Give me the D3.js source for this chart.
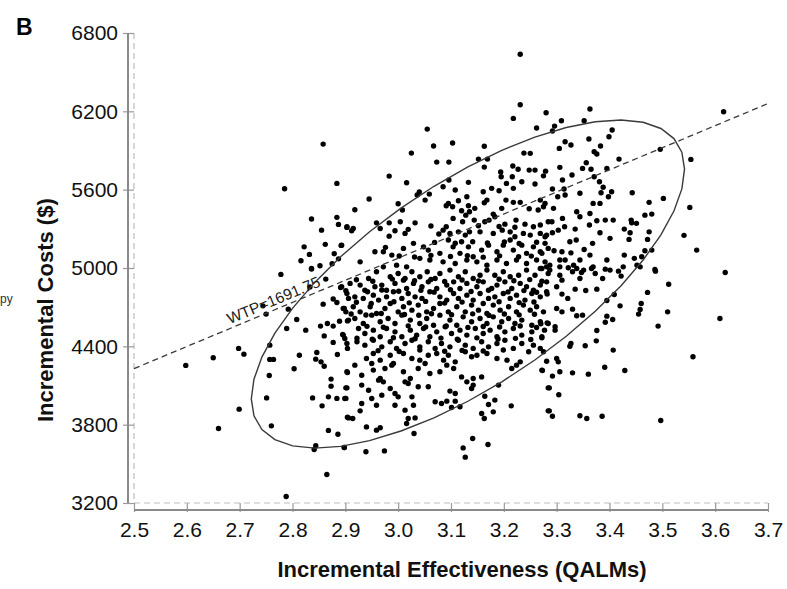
<!DOCTYPE html>
<html>
<head>
<meta charset="utf-8">
<script src="https://cdn.jsdelivr.net/npm/d3@7"></script>
<style>
  body { margin: 0; background: #fff; }
  svg { display: block; font-family: "Liberation Sans", Arial, sans-serif; }
</style>
</head>
<body>
<div id="chart"></div>
<script>
// axis ticks
const xTicks = [2.5, 2.6, 2.7, 2.8, 2.9, 3.0, 3.1, 3.2, 3.3, 3.4, 3.5, 3.6, 3.7];
const yTicks = [3200, 3800, 4400, 5000, 5600, 6200, 6800];

// willingness to pay threshold
const wtp = 1691.75;
const wtpLabelAt = 2.684;

// confidence ellipse: centre, half extents, correlation
const ellipseCenter = [3.132, 4877];
const ellipseHalf = [0.410, 1257];
const ellipseRho = 0.70;

// bootstrap replicates [effectiveness, cost]
const points = [
[2.858,5949],[2.884,5648],[2.785,5607],[2.836,5375],[2.884,5388],[2.887,5334],[2.903,5311],[2.855,5290],[2.822,5162],[2.862,5181],[2.892,5173],[2.832,5104],[2.879,5109],[2.887,5070],[2.816,5055],[2.875,5032],[2.836,4997],[2.852,5017],
[3.231,6637],[3.231,6251],[3.218,6146],[3.280,6189],[3.262,6072],[3.055,6064],[3.103,5957],[3.067,5934],[3.163,5932],[3.025,5880],[3.238,5880],[3.250,5878],[3.073,5811],[3.096,5811],[3.152,5834],[3.169,5834],[3.163,5773],[2.983,5704],[3.016,5653],[3.096,5674],[3.133,5656],[3.085,5622],[3.194,5735],[3.217,5781],[3.227,5756],[3.248,5750],[3.259,5750],[3.279,5742],[3.275,5706],[3.195,5699],[3.216,5699],[3.234,5661],[3.205,5648],[3.218,5610],[3.259,5643],[3.040,5582],[3.036,5559],[3.059,5566],[3.051,5520],[3.108,5597],[3.161,5584],[3.177,5610],[3.191,5592],[3.130,5546],[3.168,5520],[3.163,5500],[3.204,5520],[3.218,5503],[3.231,5503],[3.269,5520],[2.945,5528],[3.000,5492],[3.008,5444],[3.095,5495],[3.114,5515],[3.091,5477],[3.103,5469],[3.133,5477],[3.145,5457],[3.120,5438],[3.128,5405],[3.135,5431],[3.180,5413],[3.196,5457],[3.248,5454],[3.265,5444],[3.275,5469],[2.918,5446],[2.983,5346],[2.959,5346],[3.004,5354],[3.032,5346],[3.104,5380],[3.122,5354],[3.144,5367],[3.164,5354],[3.172,5367],[3.183,5392],[3.202,5336],[3.223,5367],[3.240,5336],[3.256,5316],[3.269,5329],[3.284,5354],[2.903,5316],[2.915,5303],[2.912,5285],[2.966,5303],[2.994,5285],[3.019,5296],[2.983,5244],[3.013,5265],[3.085,5290],[3.077,5260],[3.098,5265],[3.114,5277],[3.127,5252],[3.135,5277],[3.155,5277],[3.180,5265],[3.197,5290],[3.212,5277],[3.221,5239],[3.237,5265],[3.250,5252],[3.269,5265],[3.278,5239],[3.029,5189],[3.048,5162],[3.057,5137],[3.010,5150],[2.976,5158],[2.956,5124],[2.972,5124],[2.988,5099],[2.893,5175],[2.928,5047],[3.079,5112],[3.095,5214],[3.104,5162],[3.120,5201],[3.133,5162],[3.117,5112],[3.142,5086],[3.158,5137],[3.171,5175],[3.187,5124],[3.199,5175],[3.212,5214],[3.218,5137],[3.234,5175],[3.243,5112],[3.256,5162],[3.269,5124],[3.284,5150],[3.041,5074],[3.060,5061],[3.085,5047],[3.108,5035],[3.130,5061],[3.149,5047],[3.168,5022],[3.187,5061],[3.205,5035],[3.224,5061],[3.243,5035],[3.262,5061],[3.278,5047],[2.997,5022],[3.016,5009],[2.972,5009],
[3.363,6218],[3.616,6197],[3.296,6087],[3.309,6128],[3.292,6049],[3.352,6128],[3.405,6057],[3.399,6005],[3.361,5988],[3.316,5967],[3.327,5942],[3.305,5916],[3.371,5890],[3.383,5934],[3.376,5873],[3.496,5909],[3.418,5834],[3.554,5832],[3.356,5806],[3.349,5763],[3.365,5756],[3.395,5763],[3.306,5771],[3.329,5712],[3.371,5699],[3.311,5674],[3.381,5661],[3.388,5618],[3.292,5605],[3.314,5605],[3.384,5576],[3.404,5584],[3.344,5572],[3.443,5576],[3.302,5546],[3.316,5559],[3.398,5546],[3.502,5533],[3.475,5503],[3.369,5495],[3.382,5495],[3.278,5495],[3.294,5457],[3.552,5464],[3.338,5431],[3.363,5418],[3.467,5405],[3.480,5413],[3.344,5392],[3.311,5380],[3.291,5354],[3.376,5362],[3.392,5367],[3.407,5367],[3.441,5367],[3.451,5342],[3.442,5346],[3.362,5329],[3.335,5298],[3.315,5316],[3.303,5290],[3.428,5298],[3.439,5270],[3.475,5277],[3.382,5270],[3.292,5270],[3.541,5250],[3.281,5252],[3.401,5227],[3.437,5219],[3.472,5219],[3.325,5201],[3.337,5214],[3.368,5189],[3.278,5189],[3.352,5142],[3.467,5132],[3.480,5137],[3.565,5137],[3.295,5132],[3.310,5124],[3.327,5116],[3.363,5099],[3.428,5099],[3.447,5074],[3.461,5086],[3.272,5112],[3.306,5061],[3.316,5061],[3.344,5061],[3.395,5061],[3.287,5022],[3.332,5022],[3.369,5009],[3.452,5022],[3.426,5009],[3.486,4989],
[2.778,4951],[2.836,4992],[2.863,4915],[2.891,4851],[2.833,4854],[2.792,4685],[2.750,4647],[2.744,4710],[2.858,4723],[2.877,4762],[2.884,4736],[2.898,4690],[2.901,4664],[2.906,4767],[2.808,4606],[2.789,4537],[2.825,4524],[2.853,4555],[2.866,4575],[2.877,4555],[2.889,4593],[2.904,4595],[2.860,4480],[2.877,4430],[2.895,4491],[2.899,4460],[2.904,4384],[2.757,4409],[2.698,4384],[2.708,4340],[2.650,4312],[2.598,4254],[2.813,4332],[2.846,4353],[2.844,4302],[2.854,4281],[2.860,4248],[2.885,4338],[2.757,4300],[2.764,4300],[2.803,4228],[2.756,4177],[2.904,4200],[2.873,4149],[2.873,4095],[2.901,4082],[2.751,4005],[2.838,4005],[2.868,4013],[2.884,4001],[2.901,4001],[2.856,3944],[2.699,3919],[2.904,3857],[2.760,3791],[2.660,3771],[2.868,3756],[2.886,3727],[2.844,3638],[2.841,3610],[2.898,3625],[2.865,3418],[2.788,3250],
[2.959,4971],[2.944,4920],[2.985,4933],[3.000,4958],[3.013,4920],[3.026,4971],[3.041,4933],[3.055,4971],[3.070,4920],[3.079,4958],[3.098,4984],[3.114,4933],[3.127,4971],[3.142,4920],[3.155,4945],[3.168,4984],[3.183,4945],[3.199,4971],[3.212,4933],[3.228,4945],[3.243,4984],[3.259,4945],[3.269,4996],[3.284,4958],
[2.893,4856],[2.909,4882],[2.928,4869],[2.937,4830],[2.956,4856],[2.969,4869],[2.978,4830],[2.994,4882],[3.010,4907],[3.016,4843],[3.029,4882],[3.045,4856],[3.057,4894],[3.073,4843],[3.092,4869],[3.105,4894],[3.117,4843],[3.130,4882],[3.149,4856],[3.161,4894],[3.177,4843],[3.187,4869],[3.202,4894],[3.215,4843],[3.231,4882],[3.243,4856],[3.256,4830],[3.269,4869],[3.281,4894],
[2.903,4805],[2.918,4779],[2.934,4767],[2.953,4792],[2.963,4754],[2.978,4779],[2.991,4818],[3.007,4767],[3.019,4805],[3.032,4779],[3.045,4767],[3.060,4818],[3.079,4779],[3.092,4754],[3.105,4805],[3.114,4767],[3.130,4792],[3.142,4754],[3.155,4805],[3.171,4767],[3.183,4779],[3.199,4805],[3.212,4767],[3.224,4792],[3.240,4754],[3.253,4805],[3.269,4779],[3.281,4818],
[2.896,4690],[2.915,4703],[2.928,4664],[2.947,4703],[2.959,4652],[2.975,4690],[2.985,4728],[3.000,4664],[3.010,4703],[3.026,4677],[3.038,4716],[3.054,4664],[3.067,4690],[3.079,4728],[3.095,4664],[3.111,4703],[3.127,4664],[3.139,4716],[3.152,4677],[3.168,4652],[3.180,4716],[3.193,4677],[3.209,4703],[3.224,4664],[3.237,4716],[3.250,4677],[3.262,4703],[3.275,4664],
[2.906,4601],[2.918,4613],[2.934,4575],[2.950,4639],[2.966,4588],[2.981,4613],[2.994,4575],[3.007,4639],[3.023,4601],[3.041,4575],[3.054,4613],[3.067,4562],[3.079,4639],[3.098,4601],[3.111,4562],[3.123,4626],[3.139,4588],[3.155,4613],[3.168,4575],[3.180,4626],[3.196,4588],[3.209,4613],[3.221,4575],[3.234,4601],[3.253,4562],[3.269,4588],[3.284,4575],
[2.896,4486],[2.925,4537],[2.937,4498],[2.953,4524],[2.966,4473],[2.978,4537],[2.994,4511],[3.007,4473],[3.023,4524],[3.035,4486],[3.048,4537],[3.060,4473],[3.073,4511],[3.089,4550],[3.101,4498],[3.117,4524],[3.130,4486],[3.146,4537],[3.161,4498],[3.174,4524],[3.187,4473],[3.202,4511],[3.218,4537],[3.234,4486],[3.253,4511],[3.272,4473],
[2.903,4422],[2.922,4435],[2.937,4409],[2.953,4447],[2.969,4396],[2.985,4435],[2.997,4384],[3.013,4422],[3.026,4447],[3.041,4396],[3.057,4435],[3.070,4384],[3.082,4422],[3.098,4396],[3.114,4447],[3.127,4409],[3.142,4384],[3.158,4435],[3.171,4396],[3.187,4422],[3.202,4447],[3.218,4384],[3.234,4422],[3.256,4409],[3.269,4384],
[2.940,4307],[2.953,4345],[2.966,4294],[2.985,4332],[2.991,4269],[3.010,4345],[3.026,4307],[3.041,4294],[3.057,4332],[3.073,4345],[3.086,4294],[3.095,4332],[3.108,4281],[3.127,4358],[3.139,4320],[3.149,4332],[3.168,4345],[3.187,4307],[3.206,4294],[3.231,4281],[3.247,4358],
[2.918,4256],[2.903,4205],[2.931,4179],[2.950,4269],[2.953,4218],[2.966,4154],[2.975,4230],[2.988,4256],[3.010,4205],[3.023,4154],[3.038,4230],[3.051,4269],[3.060,4192],[3.079,4205],[3.092,4256],[3.105,4230],[3.120,4166],[3.130,4128],[3.142,4154],[3.158,4166],[3.215,4230],[3.224,4256],[3.272,4218],
[2.903,4082],[2.931,4103],[2.944,4064],[2.972,4128],[2.963,4141],[2.985,4077],[2.994,4039],[3.000,4013],[3.013,4128],[3.019,4115],[3.038,4090],[3.057,4090],[3.098,4057],[3.108,4039],[3.139,4077],[3.142,4103],[3.190,4103],[3.284,4082],[2.899,4000],[2.950,4000],[2.969,4026],[3.026,4013],
[2.931,3962],[2.928,3906],[2.959,3949],[2.994,3949],[3.013,3911],[3.029,3949],[3.032,3852],[3.019,3847],[3.070,3975],[3.082,3962],[3.092,3980],[3.108,3980],[3.101,3931],[3.117,3937],[3.164,4018],[3.171,3954],[3.183,3988],[3.158,3885],[3.180,3898],[3.214,3944],[3.284,3906],[2.906,3852],[2.914,3847],
[2.940,3783],[2.959,3758],[2.966,3776],[3.016,3809],[3.030,3732],[3.141,3694],[3.123,3622],[3.170,3648],[3.127,3551],[2.898,3625],[2.939,3592],[2.974,3599],[3.163,3847],
[3.619,4966],[3.512,4876],[3.487,4976],[3.458,5009],[3.472,4813],[3.460,4728],[3.458,4682],[3.455,4647],[3.510,4664],[3.492,4555],[3.609,4613],[3.558,4320],[3.497,3832],[3.420,4710],[3.409,4797],[3.395,4751],[3.395,4631],[3.406,4606],[3.392,4585],[3.376,4521],[3.375,4442],[3.407,4371],[3.354,4404],[3.327,4422],[3.325,4401],[3.391,4240],[3.429,4215],[3.360,4187],[3.330,4197],[3.306,4205],[3.292,4172],[3.273,4215],[3.286,4082],[3.304,4029],[3.286,3906],[3.292,3865],[3.344,3868],[3.357,3847],[3.386,3865],[3.300,4307],[3.303,4281],[3.281,4286],[3.275,4358],[3.272,4465],[3.277,4524],[3.297,4550],[3.297,4524],[3.282,4580],[3.270,4573],[3.300,4690],[3.310,4664],[3.330,4685],[3.338,4634],[3.349,4639],[3.282,4800],[3.310,4800],[3.321,4767],[3.335,4838],[3.355,4828],[3.376,4838],[3.300,4856],[3.310,4907],[3.306,4945],[3.344,4920],[3.347,4966],[3.330,4971],[3.366,4996],[3.373,4958],[3.387,4920],[3.392,4991],[3.401,4984],[3.417,4976],[3.422,4938],[3.287,4984],[3.272,4996],[3.281,5009],[3.306,5009],[3.322,5002],[3.338,4996],[3.351,4984],
[2.921,4910],[2.952,4898],[2.989,4915],[3.031,4903],[3.062,4912],[3.088,4897],[3.121,4908],[3.152,4900],[3.191,4914],[3.219,4902],[3.249,4911],[3.272,4899],
[2.901,4826],[2.942,4818],[2.969,4832],[3.001,4822],[3.043,4829],[3.068,4815],[3.099,4833],[3.138,4820],[3.171,4830],[3.208,4817],[3.238,4827],[3.262,4814],
[2.921,4738],[2.949,4729],[2.992,4741],[3.021,4733],[3.052,4744],[3.088,4731],[3.121,4739],[3.161,4728],[3.191,4742],[3.229,4735],[3.257,4740],
[2.911,4648],[2.939,4640],[2.968,4651],[3.012,4644],[3.039,4638],[3.063,4650],[3.101,4642],[3.141,4649],[3.172,4637],[3.201,4648],[3.229,4641],[3.258,4646],
[2.941,4553],[2.972,4546],[3.019,4557],[3.052,4549],[3.091,4556],[3.132,4545],[3.161,4552],[3.192,4548],[3.231,4556],[3.262,4544],
[2.922,4462],[2.951,4455],[2.991,4466],[3.032,4458],[3.081,4463],[3.112,4454],[3.149,4465],[3.189,4457],[3.222,4461],[3.251,4452],
[2.962,4367],[3.002,4360],[3.041,4371],[3.088,4362],[3.121,4369],[3.161,4364],[3.199,4372],
[3.002,5092],[3.031,5084],[3.062,5097],[3.099,5088],[3.131,5095],[3.161,5083],[3.192,5093],[3.228,5086],[3.252,5091],
[3.069,5196],[3.108,5190],[3.141,5201],[3.169,5192],[3.201,5199],[3.229,5188],[3.262,5197],
[3.062,5322],[3.091,5316],[3.152,5324],[3.191,5318],[3.221,5312]
];

const width = 787;
const height = 589;

const svg = d3.select("#chart")
  .append("svg")
  .attr("width", width)
  .attr("height", height);

// scales
const x = d3.scaleLinear().domain([2.5, 3.7]).range([134, 768]);
const y = d3.scaleLinear().domain([3200, 6800]).range([503, 33]);

// dashed frame lines along the plot edges
svg.append("line")
  .attr("x1", x(2.5)).attr("x2", x(2.5))
  .attr("y1", y(6800)).attr("y2", y(3200))
  .attr("stroke", "#bdbdbd").attr("stroke-width", 1.2)
  .attr("stroke-dasharray", "6,4");
svg.append("line")
  .attr("x1", x(2.5)).attr("x2", x(3.7))
  .attr("y1", y(3200)).attr("y2", y(3200))
  .attr("stroke", "#bdbdbd").attr("stroke-width", 1.2)
  .attr("stroke-dasharray", "6,4");

// y axis
const yAxis = svg.append("g")
  .attr("transform", `translate(${x(2.5)},0)`)
  .call(d3.axisLeft(y).tickValues(yTicks).tickFormat(d3.format("d")).tickSize(11).tickPadding(5));
yAxis.select(".domain").remove();
yAxis.selectAll(".tick line").attr("stroke", "#9a9a9a").attr("stroke-width", 1.2);
yAxis.selectAll(".tick text").attr("fill", "#111").style("font-size", "21px");

svg.append("line")
  .attr("x1", x(2.5) - 6).attr("x2", x(2.5) - 6)
  .attr("y1", y(6800)).attr("y2", y(3200))
  .attr("stroke", "#8a8a8a").attr("stroke-width", 2);

// x axis
const xAxis = svg.append("g")
  .attr("transform", `translate(0,${y(3200)})`)
  .call(d3.axisBottom(x).tickValues(xTicks).tickFormat(d3.format(".1f")).tickSize(9).tickPadding(10));
xAxis.select(".domain").remove();
xAxis.selectAll(".tick line").attr("stroke", "#9a9a9a").attr("stroke-width", 1.2);
xAxis.selectAll(".tick text").attr("fill", "#111").style("font-size", "21px");

svg.append("line")
  .attr("x1", x(2.5)).attr("x2", x(3.7))
  .attr("y1", y(3200) + 7).attr("y2", y(3200) + 7)
  .attr("stroke", "#8a8a8a").attr("stroke-width", 2);

// scatter of replicates
svg.append("g")
  .selectAll("circle")
  .data(points)
  .enter()
  .append("circle")
  .attr("cx", d => x(d[0]))
  .attr("cy", d => y(d[1]))
  .attr("r", 2.7)
  .attr("fill", "#000");

// confidence ellipse
const sq = Math.sqrt(1 - ellipseRho * ellipseRho);
const ellipsePts = d3.range(40).map(i => {
  const t = i / 40 * 2 * Math.PI;
  return [
    ellipseCenter[0] + ellipseHalf[0] * Math.cos(t),
    ellipseCenter[1] + ellipseHalf[1] * (ellipseRho * Math.cos(t) + sq * Math.sin(t))
  ];
});
svg.append("path")
  .datum(ellipsePts)
  .attr("fill", "none")
  .attr("stroke", "#3a3a3a")
  .attr("stroke-width", 1.4)
  .attr("d", d3.line().x(d => x(d[0])).y(d => y(d[1])).curve(d3.curveLinearClosed));

// WTP threshold line
const wtpLine = [[2.5, 2.5 * wtp], [3.7, 3.7 * wtp]];
svg.append("path")
  .datum(wtpLine)
  .attr("fill", "none")
  .attr("stroke", "#3a3a3a")
  .attr("stroke-width", 1.3)
  .attr("stroke-dasharray", "6,4")
  .attr("d", d3.line().x(d => x(d[0])).y(d => y(d[1])));

const angle = Math.atan2(y(wtpLine[1][1]) - y(wtpLine[0][1]), x(3.7) - x(2.5)) * 180 / Math.PI;
svg.append("text")
  .attr("transform", `translate(${x(wtpLabelAt)},${y(wtpLabelAt * wtp)}) rotate(${angle}) translate(0,-4)`)
  .style("font-size", "15.5px")
  .attr("fill", "#222")
  .text("WTP=" + wtp);

// axis titles
svg.append("text")
  .attr("x", 462)
  .attr("y", 577)
  .attr("text-anchor", "middle")
  .style("font-size", "22px")
  .style("font-weight", "bold")
  .attr("fill", "#111")
  .text("Incremental Effectiveness (QALMs)");

svg.append("text")
  .attr("transform", "translate(53,422) rotate(-90)")
  .attr("text-anchor", "start")
  .style("font-size", "22px")
  .style("font-weight", "bold")
  .attr("fill", "#111")
  .text("Incremental Costs ($)");

// panel letter
svg.append("text")
  .attr("x", 16)
  .attr("y", 35)
  .style("font-size", "23px")
  .style("font-weight", "bold")
  .text("B");

// fragment of the neighbouring panel's text
svg.append("text")
  .attr("x", 0)
  .attr("y", 303)
  .style("font-size", "12px")
  .attr("fill", "#333")
  .text("py");
</script>
</body>
</html>
